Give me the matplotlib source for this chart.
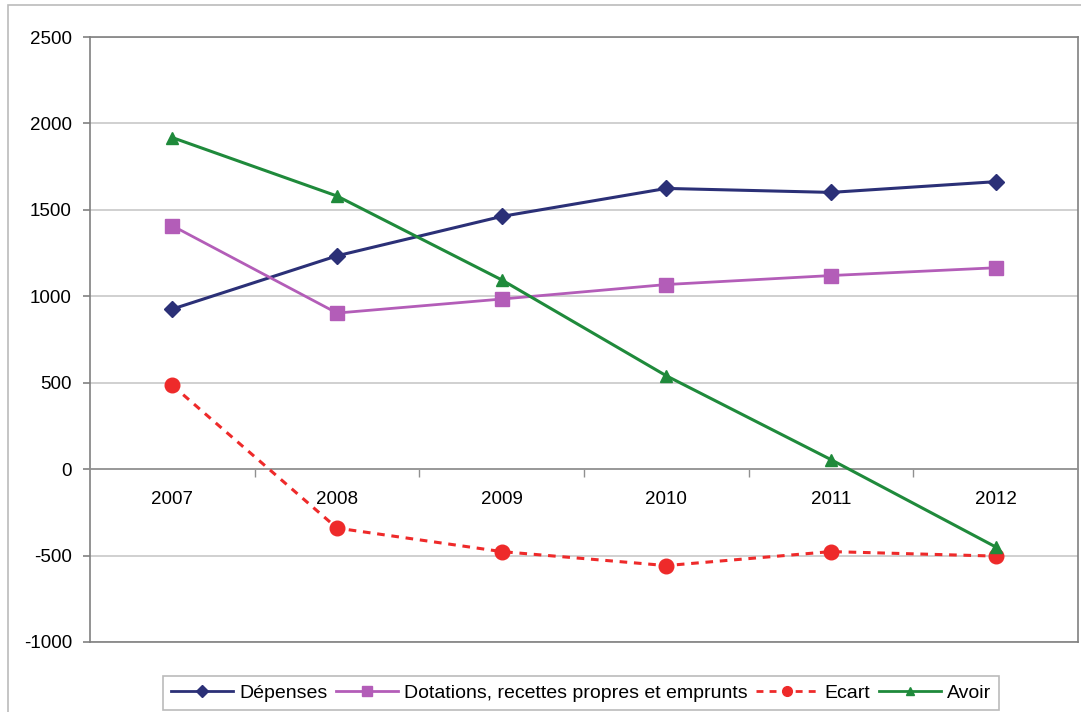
import matplotlib
matplotlib.use('Agg')
import matplotlib.pyplot as plt
from matplotlib.patches import Rectangle
from matplotlib.lines import Line2D

plt.rcParams['font.family'] = ['Liberation Sans', 'DejaVu Sans']
plt.rcParams['axes.unicode_minus'] = False

years = ['2007', '2008', '2009', '2010', '2011', '2012']
depenses = [926, 1234, 1462, 1624, 1601, 1663]
dotations = [1408, 903, 984, 1068, 1120, 1165]
ecart = [485, -341, -477, -558, -477, -503]
avoir = [1918, 1580, 1095, 540, 55, -450]

c_dep = '#2B3077'
c_dot = '#B35DB8'
c_eca = '#EE2A2A'
c_avo = '#1F8A3B'

fig = plt.figure(figsize=(10.81, 7.12), dpi=100)
ax = fig.add_axes([90 / 1081, 1 - 642 / 712, 988 / 1081, 605 / 712])

# outer chart border
fig.patches.append(Rectangle((8 / 1081, -0.1), 1.2, 1 - 5 / 712 + 0.1,
                             transform=fig.transFigure, fill=False,
                             edgecolor='#BBBBBB', lw=1.2))

x = list(range(len(years)))
ax.plot(x, depenses, color=c_dep, lw=2.2, marker='D', ms=8.5, label='Dépenses', zorder=3)
ax.plot(x, dotations, color=c_dot, lw=2, marker='s', ms=10, label='Dotations, recettes propres et emprunts', zorder=3)
ax.plot(x, ecart, color=c_eca, lw=2.2, ls=(0, (2.5, 2.2)), marker='o', ms=10.5, label='Ecart', zorder=3)
ax.plot(x, avoir, color=c_avo, lw=2.2, marker='^', ms=8.5, label='Avoir', zorder=3)

ax.set_xlim(-0.5, 5.5)
ax.set_ylim(-1000, 2500)
ax.set_yticks(range(-1000, 2501, 500))
ax.yaxis.grid(True, color='#C8C8C8', lw=1.2)
ax.set_axisbelow(True)

for s in ['top', 'right', 'left']:
    ax.spines[s].set_color('#808080')
    ax.spines[s].set_linewidth(1.2)
ax.spines['bottom'].set_position(('data', 0))
ax.spines['bottom'].set_color('#909090')
ax.spines['bottom'].set_linewidth(1.2)
ax.axhline(-1000, color='#808080', lw=1.2, clip_on=False)

ax.set_xticks(x)
ax.set_xticklabels(years)
ax.set_xticks([i + 0.5 for i in range(5)], minor=True)
ax.tick_params(axis='x', which='major', length=0, pad=16, labelsize=13.5)
ax.tick_params(axis='x', which='minor', length=6, color='#909090', width=1)
ax.tick_params(axis='y', length=5, color='#808080', width=1.2, pad=8, labelsize=13.5)

handles = [
    Line2D([], [], color=c_dep, lw=2, marker='D', ms=6),
    Line2D([], [], color=c_dot, lw=2, marker='s', ms=7),
    Line2D([], [], color=c_eca, lw=2, ls=(0, (2.5, 2.2)), marker='o', ms=7),
    Line2D([], [], color=c_avo, lw=2, marker='^', ms=6),
]
labels = ['Dépenses', 'Dotations, recettes propres et emprunts', 'Ecart', 'Avoir']
leg = fig.legend(handles, labels, loc='center', bbox_to_anchor=(581 / 1081, 1 - 693 / 712),
                 ncol=4, fontsize=14, frameon=True, fancybox=False,
                 handlelength=3.2, handletextpad=0.3, columnspacing=0.45,
                 borderpad=0.4, borderaxespad=0)
leg.get_frame().set_edgecolor('#AAAAAA')
leg.get_frame().set_linewidth(1.2)

fig.savefig('out.png', dpi=100)
